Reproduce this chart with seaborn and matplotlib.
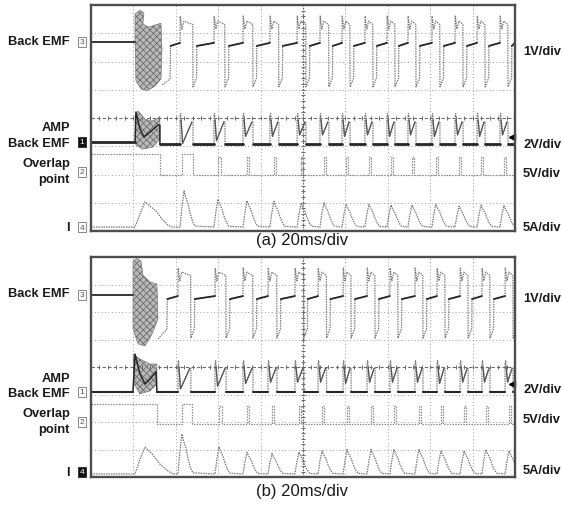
import matplotlib
matplotlib.use('Agg')
import matplotlib.pyplot as plt
import numpy as np
import pandas as pd
import seaborn as sns

sns.set_theme(style='white')
plt.rcParams['font.family'] = ['Liberation Sans', 'DejaVu Sans']
plt.rcParams['hatch.linewidth'] = 0.6

# screen: 10 div x 20 ms/div = 200 ms wide, 8 div high
# all values in ms (time) and div (from bottom of screen)

# ---------- panel (a) ----------
a_pulse_t = [42.0, 58.0, 71.7, 84.4, 97.2, 108.0, 118.4, 129.2, 139.6, 149.5, 160.8, 171.7, 182.1, 192.9]
a_pulse_w = [6.1, 5.2, 4.7, 4.2, 4.2, 4.2, 3.8, 3.8, 3.8, 3.8, 3.8, 3.8, 3.8, 3.8]
# back emf levels: pre, flat, flat end, spike, v bottom, v top, low, slash top
a_emf_lv = [6.69, 6.55, 6.66, 7.61, 7.15, 7.43, 5.10, 5.42]
a_emf_burst_t = [20.75, 23.1, 25.0, 24.5, 26.9, 30.2, 33.0, 33.5, 33.0, 30.2, 26.4, 23.6, 21.2, 20.75]
a_emf_burst_v = [7.68, 7.82, 7.72, 7.33, 7.22, 7.29, 7.36, 6.44, 5.38, 5.13, 4.96, 5.03, 5.31, 6.80]
a_emf_tail_t = [33.5, 37.3]
a_emf_tail_v = [5.17, 5.38]
# amp back emf: pre base, base, top, v top
a_amp_lv = [3.15, 3.08, 4.04, 3.86]
a_amp_vbot = [3.10, 3.20, 3.35, 3.35, 3.40, 3.40, 3.35, 3.40, 3.35, 3.40, 3.35, 3.40, 3.35, 3.40]
a_amp_burst_t = [20.75, 22.2, 25.5, 28.8, 32.5, 32.5, 29.2, 24.5, 21.2]
a_amp_burst_v = [4.07, 4.25, 3.96, 3.89, 4.04, 3.26, 2.97, 2.90, 3.04]
a_amp_dark_t = [20.75, 21.2, 23.1, 25.0, 27.8, 31.6, 32.5, 32.5]
a_amp_dark_v = [3.15, 4.21, 3.61, 3.33, 3.50, 3.75, 3.75, 3.08]
# overlap point: high, low
a_ovl_lv = [2.73, 1.98]
a_ovl_drop = 32.5
a_ovl_t = [42.9, 59.9, 73.6, 86.3, 99.1, 109.9, 120.3, 131.1, 141.5, 151.4, 162.7, 173.6, 184.0, 194.8]
a_ovl_w = [5.2, 1.2, 1.1, 1.0, 1.0, 1.0, 1.0, 1.0, 1.0, 1.0, 1.0, 1.0, 1.0, 1.0]
a_ovl_top = [2.73, 2.62, 2.62, 2.62, 2.62, 2.62, 2.62, 2.62, 2.62, 2.62, 2.62, 2.62, 2.62, 2.62]
# phase current
a_cur_base = 0.14
a_cur_burst_t = [20.75, 23.1, 25.5, 27.8, 30.7, 33.5, 36.3, 38.2]
a_cur_burst_v = [0.14, 0.60, 1.03, 0.88, 0.71, 0.42, 0.21, 0.14]
a_cur_peak = [1.42, 1.13, 1.07, 1.05, 0.98, 1.00, 0.95, 0.95, 0.92, 0.92, 0.95, 0.88, 0.92, 0.90]
a_trig = 3.33

# ---------- panel (b) ----------
b_pulse_t = [41.0, 58.5, 71.7, 83.5, 96.2, 107.1, 118.9, 130.2, 141.0, 152.8, 163.2, 174.1, 184.4, 195.3]
b_pulse_w = [6.1, 5.2, 4.7, 4.2, 4.2, 4.0, 3.8, 3.8, 3.8, 3.8, 3.8, 3.8, 3.8, 3.8]
b_emf_lv = [6.62, 6.47, 6.58, 7.60, 7.13, 7.45, 5.05, 5.40]
b_emf_burst_t = [19.8, 21.7, 23.6, 24.5, 27.8, 31.1, 31.6, 28.8, 25.5, 22.2, 19.8]
b_emf_burst_v = [7.85, 7.95, 7.85, 7.35, 7.09, 7.02, 5.75, 5.20, 4.76, 4.84, 5.38]
b_emf_tail_t = [31.6, 35.8]
b_emf_tail_v = [5.02, 5.38]
b_amp_lv = [3.09, 3.09, 4.11, 3.95]
b_amp_vbot = [3.20, 3.30, 3.40, 3.45, 3.45, 3.45, 3.40, 3.45, 3.45, 3.45, 3.40, 3.45, 3.45, 3.45]
b_amp_burst_t = [19.8, 23.1, 27.8, 31.1, 31.1, 27.8, 23.1, 20.3]
b_amp_burst_v = [4.47, 4.29, 4.11, 4.11, 3.38, 3.13, 3.02, 3.38]
b_amp_dark_t = [19.8, 20.75, 23.1, 25.5, 27.8, 30.7, 31.1]
b_amp_dark_v = [3.09, 4.47, 3.75, 3.38, 3.56, 3.82, 3.09]
b_ovl_lv = [2.65, 1.93]
b_ovl_drop = 31.1
b_ovl_t = [42.9, 60.4, 73.6, 85.4, 98.1, 109.0, 120.8, 132.1, 142.9, 154.7, 165.1, 176.0, 186.3, 197.2]
b_ovl_w = [4.7, 1.2, 1.1, 1.0, 1.0, 1.0, 1.0, 1.0, 1.0, 1.0, 1.0, 1.0, 1.0, 1.0]
b_ovl_top = [2.65, 2.58, 2.58, 2.58, 2.58, 2.58, 2.58, 2.58, 2.58, 2.58, 2.58, 2.58, 2.58, 2.58]
b_cur_base = 0.11
b_cur_burst_t = [20.75, 23.1, 25.5, 28.8, 32.5, 36.3, 38.7]
b_cur_burst_v = [0.11, 0.65, 1.09, 0.84, 0.47, 0.22, 0.11]
b_cur_peak = [1.56, 1.10, 0.90, 0.85, 0.90, 0.95, 1.00, 1.00, 1.00, 1.00, 0.95, 0.95, 1.00, 0.95]
b_trig = 3.38

# current hump shape after each commutation (ms after pulse, share of peak)
hump_dt = [0.0, 0.9, 1.9, 2.7, 3.7, 4.7, 5.9, 7.0]
hump_frac = [0.0, 0.55, 1.0, 0.82, 0.66, 0.40, 0.16, 0.03]

LIGHT = '#7d7d7d'
DARK = '#262626'
END = 200.0


def line(ax, xs, ys, seg=None, **kw):
    df = pd.DataFrame({'t': xs, 'v': ys, 'seg': seg if seg is not None else [0] * len(xs)})
    sns.lineplot(data=df, x='t', y='v', units='seg', estimator=None, sort=False,
                 legend=False, ax=ax, **kw)


def draw_panel(ax, P):
    t, w = P['t'], P['w']
    nxt = t[1:] + [END]
    # --- back emf
    pre, flat, flat_end, spike, vbot, vtop, low, slash = P['emf']
    ax.fill(P['emf_bt'], P['emf_bv'], facecolor='#b9b9b9', edgecolor='#6f6f6f',
            hatch='xxxxx', lw=0.4)
    xs = list(P['tail_t']) + [P['tail_t'][1] + 0.2]
    ys = list(P['tail_v']) + [flat]
    for ti, wi in zip(t, w):
        xs += [ti, ti + 0.1, ti + 0.9, ti + 1.8, ti + wi - 0.1, ti + wi, ti + wi + 1.7, ti + wi + 1.8]
        ys += [flat_end, spike, vbot, vtop, vtop - 0.12, low, slash, flat]
    xs.append(END); ys.append(flat_end)
    line(ax, xs, ys, color=LIGHT, lw=0.9, linestyle=(0, (1.2, 0.8)))
    fx, fy_, fs = [0, P['emf_bt'][0]], [pre, pre], [0, 0]
    starts = [P['tail_t'][1] + 0.2] + [ti + wi + 1.8 for ti, wi in zip(t, w)]
    ends = [t[0]] + nxt
    for k, (s, e) in enumerate(zip(starts, ends)):
        fx += [s, e]; fy_ += [flat, flat_end]; fs += [k + 1, k + 1]
    line(ax, fx, fy_, seg=fs, color=DARK, lw=1.3)

    # --- amp back emf
    pbase, base, top, vt = P['amp']
    ax.fill(P['amp_bt'], P['amp_bv'], facecolor='#b9b9b9', edgecolor='#6f6f6f',
            hatch='xxxxx', lw=0.4)
    line(ax, P['amp_dt'], P['amp_dv'], color=DARK, lw=1.1)
    lx, ly, ls_ = [], [], []
    vx, vy, vs = [], [], []
    for k, (ti, wi, vb) in enumerate(zip(t, w, P['amp_vbot'])):
        lx += [ti, ti, ti + 0.3, ti + 1.2, ti + wi - 0.5, ti + wi, ti + wi]
        ly += [base, top, top + 0.12, vb, vt, vt, base]
        ls_ += [k] * 7
        vx += [ti + 0.5, ti + 1.2, ti + wi - 0.5]
        vy += [top - 0.1, vb, vt]
        vs += [k] * 3
    line(ax, lx, ly, seg=ls_, color=LIGHT, lw=0.9, linestyle=(0, (1.2, 0.8)))
    line(ax, vx, vy, seg=vs, color='#555555', lw=0.9)
    bx = [0, P['amp_bt'][0], P['amp_dt'][-1], t[0]]
    by = [pbase, pbase, base, base]
    bs = [0, 0, 1, 1]
    for k, (ti, wi, e) in enumerate(zip(t, w, nxt)):
        bx += [ti + wi, e]; by += [base, base]; bs += [k + 2, k + 2]
    line(ax, bx, by, seg=bs, color=DARK, lw=P['base_lw'])
    ax.plot([END - 1.2], [P['trig']], marker='<', color='black', ms=4.5, clip_on=False)

    # --- overlap point
    hi, lo = P['ovl']
    xs = [0, P['ovl_drop'], P['ovl_drop']]
    ys = [hi, hi, lo]
    for s, ww, tp in zip(P['ovl_t'], P['ovl_w'], P['ovl_top']):
        xs += [s, s, s + ww, s + ww]
        ys += [lo, tp, tp, lo]
    xs.append(END); ys.append(lo)
    line(ax, xs, ys, color='#8c8c8c', lw=0.9, linestyle=(0, (1.2, 1.0)))

    # --- current
    cb = P['cur_base']
    xs = [0] + list(P['cur_bt'])
    ys = [cb] + list(P['cur_bv'])
    for ti, pk in zip(t, P['cur_peak']):
        for dt, fr in zip(hump_dt, hump_frac):
            xs.append(ti + dt); ys.append(cb + fr * (pk - cb))
    xs.append(END); ys.append(cb)
    line(ax, xs, ys, color='#777777', lw=0.9, linestyle=(0, (1.2, 0.8)))


def style_axes(ax):
    ax.set_xlim(0, END)
    ax.set_ylim(0, 8)
    ax.set_xticks([]); ax.set_yticks([])
    ax.set_xlabel(''); ax.set_ylabel('')
    for sp in ax.spines.values():
        sp.set_visible(True)
        sp.set_color('#4d4d4d')
        sp.set_linewidth(1.7)


def graticule(ax):
    for g in range(1, 10):
        if g != 5:
            ax.axvline(g * 20, color='#a0a0a0', lw=0.7, ls=(0, (1, 2.5)), zorder=0)
    for g in range(1, 8):
        if g != 4:
            ax.axhline(g, color='#a0a0a0', lw=0.7, ls=(0, (1, 2.5)), zorder=0)
    ax.axhline(4, color='#6a6a6a', lw=0.8, ls=(0, (3, 2)), zorder=0)
    ax.axvline(100, color='#6a6a6a', lw=0.9, ls=(0, (1.5, 1)), zorder=0)
    tx = np.arange(0, 201, 4)
    ax.plot(tx, [4] * len(tx), ls='none', marker='|', ms=3, color='#6a6a6a', mew=0.7)
    ty = np.arange(0, 8.01, 0.2)
    ax.plot([100] * len(ty), ty, ls='none', marker='_', ms=3, color='#6a6a6a', mew=0.7)


panel_a = dict(t=a_pulse_t, w=a_pulse_w, emf=a_emf_lv, emf_bt=a_emf_burst_t, emf_bv=a_emf_burst_v,
               tail_t=a_emf_tail_t, tail_v=a_emf_tail_v, amp=a_amp_lv, amp_vbot=a_amp_vbot,
               amp_bt=a_amp_burst_t, amp_bv=a_amp_burst_v, amp_dt=a_amp_dark_t, amp_dv=a_amp_dark_v,
               ovl=a_ovl_lv, ovl_drop=a_ovl_drop, ovl_t=a_ovl_t, ovl_w=a_ovl_w, ovl_top=a_ovl_top,
               cur_base=a_cur_base, cur_bt=a_cur_burst_t, cur_bv=a_cur_burst_v, cur_peak=a_cur_peak,
               trig=a_trig, base_lw=2.0)
panel_b = dict(t=b_pulse_t, w=b_pulse_w, emf=b_emf_lv, emf_bt=b_emf_burst_t, emf_bv=b_emf_burst_v,
               tail_t=b_emf_tail_t, tail_v=b_emf_tail_v, amp=b_amp_lv, amp_vbot=b_amp_vbot,
               amp_bt=b_amp_burst_t, amp_bv=b_amp_burst_v, amp_dt=b_amp_dark_t, amp_dv=b_amp_dark_v,
               ovl=b_ovl_lv, ovl_drop=b_ovl_drop, ovl_t=b_ovl_t, ovl_w=b_ovl_w, ovl_top=b_ovl_top,
               cur_base=b_cur_base, cur_bt=b_cur_burst_t, cur_bv=b_cur_burst_v, cur_peak=b_cur_peak,
               trig=b_trig, base_lw=1.5)

W, H = 562, 506
fig = plt.figure(figsize=(W / 100, H / 100), dpi=100)
ax_a = fig.add_axes([91 / W, 1 - 232 / H, 424 / W, 226 / H])
ax_b = fig.add_axes([91 / W, 1 - 478 / H, 424 / W, 220 / H])
for ax, P in ((ax_a, panel_a), (ax_b, panel_b)):
    graticule(ax)
    draw_panel(ax, P)
    style_axes(ax)

lab = dict(fontsize=9.3, fontweight='bold', color='#1a1a1a', va='center')


def fy(py):
    return 1 - py / H


# left channel names
for txt, py in (('Back EMF', 42), ('AMP', 128), ('Back EMF', 144), ('Overlap', 164),
                ('point', 180), ('I', 228), ('Back EMF', 294), ('AMP', 379), ('Back EMF', 394),
                ('Overlap', 414), ('point', 430), ('I', 473)):
    fig.text(70 / W, fy(py), txt, ha='right', **lab)

# right scale labels
for txt, py in (('1V/div', 52), ('2V/div', 145), ('5V/div', 174), ('5A/div', 228),
                ('1V/div', 299), ('2V/div', 390), ('5V/div', 420), ('5A/div', 471)):
    fig.text(523 / W, fy(py), txt, ha='left', **lab)

# channel markers
for txt, py, filled in (('3', 43, False), ('1', 143, True), ('2', 173, False), ('4', 228, False),
                        ('3', 296, False), ('1', 393, False), ('2', 423, False), ('4', 473, True)):
    fig.text(82 / W, fy(py), txt, ha='center', va='center', fontsize=6,
             color='white' if filled else '#555555',
             bbox=dict(boxstyle='square,pad=0.15', fc='#111111' if filled else 'white',
                       ec='#333333' if filled else '#888888', lw=0.7))

cap = dict(fontsize=12, color='#1a1a1a', ha='center', va='center')
fig.text(302 / W, fy(241), '(a) 20ms/div', **cap)
fig.text(302 / W, fy(492), '(b) 20ms/div', **cap)

fig.savefig('out.png', dpi=100)
